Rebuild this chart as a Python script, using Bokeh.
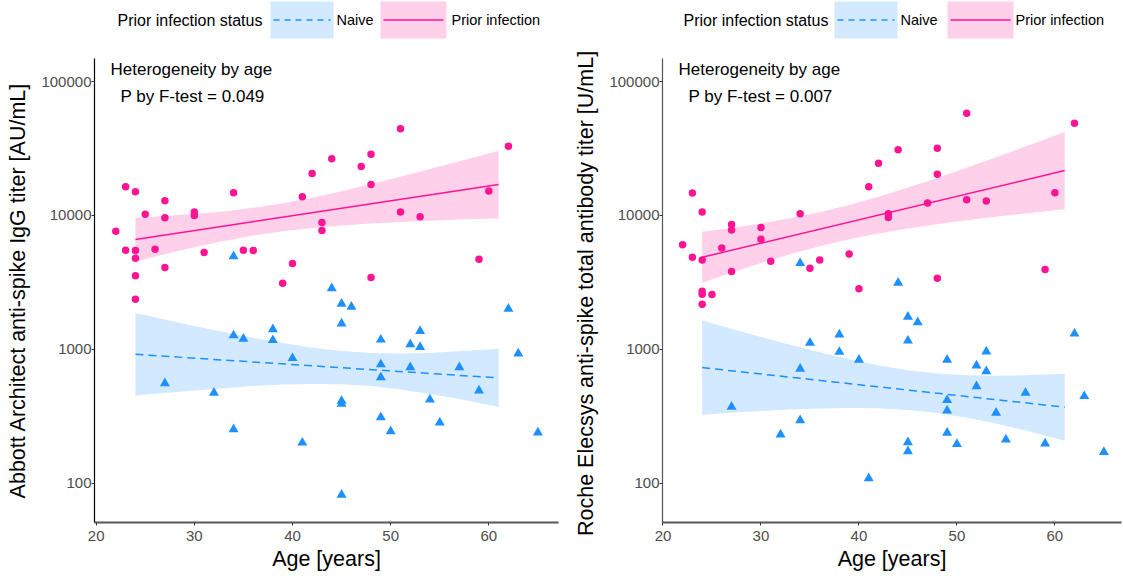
from bokeh.plotting import figure
from bokeh.models import Range1d, FixedTicker, NumeralTickFormatter, Label
from bokeh.layouts import row, column
from bokeh.core.properties import value
from bokeh.embed import file_html
from bokeh.resources import INLINE

FONT = "Liberation Sans"
PINK = "#FF1493"
BLUE = "#1E90FF"
PINK_BAND = "#FFD0E9"
BLUE_BAND = "#D2E9FF"

# ---------------- data ----------------
age_prior = [22, 23, 23, 24, 24, 24, 24, 24, 25, 26, 27, 27, 27, 30, 30, 31, 34, 35,
             36, 39, 40, 41, 42, 43, 43, 44, 47, 48, 48, 48, 51, 51, 53, 59, 60, 62]
abbott_prior = [7620, 16400, 5500, 15000, 5470, 4790, 3540, 2370, 10200, 5600, 12900, 9600,
                4080, 10600, 10000, 5290, 14800, 5500, 5470, 3120, 4370, 13800, 20600, 8850,
                7710, 26500, 23200, 28600, 17000, 3440, 44400, 10600, 9770, 4710, 15200, 32900]
roche_prior = [6030, 14700, 4870, 10600, 4650, 2710, 2580, 2170, 2570, 5720, 8550, 7800,
               3810, 8130, 6640, 4550, 10300, 4030, 4650, 5160, 2830, 16400, 24500, 10300,
               9650, 30900, 12400, 31800, 20300, 3400, 57900, 13100, 12800, 3950, 14800, 48900]

age_naive_abbott = [34, 44, 45, 46, 45, 62, 34, 35, 38, 38, 40, 49, 52, 53, 53, 49, 52, 49,
                    57, 63, 59, 27, 32, 45, 45, 54, 49, 55, 50, 34, 41, 65, 45]
abbott_naive = [4950, 2860, 2190, 2080, 1560, 2010, 1270, 1200, 1410, 1170, 859, 1180, 1090,
                1370, 1040, 771, 735, 619, 735, 931, 492, 558, 473, 412, 391, 422, 311, 284,
                244, 253, 201, 239, 82]
age_naive_roche = [34, 44, 45, 46, 45, 62, 35, 38, 38, 40, 34, 49, 52, 53, 53, 49, 52, 49,
                   57, 63, 59, 27, 32, 45, 45, 54, 49, 55, 50, 34, 41, 65]
roche_naive = [4400, 3140, 1750, 1590, 1160, 1310, 1120, 1290, 957, 835, 715, 835, 757, 963,
               686, 417, 530, 349, 473, 447, 198, 372, 231, 202, 173, 336, 238, 212, 196, 295,
               109, 171]

fit_age = [24, 61]
abbott_fit_prior = [6607, 17022]
abbott_fit_naive = [918, 612]
roche_fit_prior = [4875, 21627]
roche_fit_naive = [731, 370]

band_age = [24, 27, 30, 33, 36, 39, 42, 45, 48, 51, 54, 57, 61]
abbott_prior_lo = [4539, 5140, 5794, 6457, 7079, 7621, 8072, 8414, 8710, 8933, 9120, 9311, 9506]
abbott_prior_hi = [9616, 9886, 10257, 10715, 11402, 12359, 13583, 15171, 17140, 19454, 22182, 25410, 30479]
abbott_naive_lo = [452, 473, 493, 513, 532, 546, 552, 548, 532, 502, 465, 425, 371]
abbott_naive_hi = [1866, 1671, 1496, 1348, 1219, 1114, 1028, 971, 938, 931, 940, 966, 1012]
roche_prior_lo = [3148, 3741, 4406, 5140, 5888, 6637, 7328, 7980, 8590, 9204, 9772, 10351, 11143]
roche_prior_hi = [7551, 8072, 8710, 9528, 10568, 11967, 13772, 16144, 19055, 22751, 27164, 32734, 41976]
roche_naive_lo = [325, 336, 346, 355, 361, 365, 363, 353, 335, 309, 279, 248, 208]
roche_naive_hi = [1644, 1426, 1239, 1081, 951, 843, 759, 698, 659, 640, 635, 640, 656]

x_ticks = [20, 30, 40, 50, 60]
y_ticks = [100, 1000, 10000, 100000]

legend_title = "Prior infection status"
legend_labels = ["Naive", "Prior infection"]

LEG_H = 42


def make_legend(width, frame_px, x_title, blue_box, naive_x, pink_box, prior_x):
    # the legend strip's frame is aligned with the panel frame below it,
    # so its x range is expressed in page pixels of that frame
    lg = figure(width=width, height=LEG_H, x_range=Range1d(*frame_px),
                y_range=Range1d(LEG_H, 0), output_backend="svg", toolbar_location=None,
                x_axis_location=None, y_axis_location=None,
                min_border=0, min_border_top=0, min_border_bottom=0)
    lg.outline_line_color = None
    lg.xgrid.visible = False
    lg.ygrid.visible = False
    cy = 19.5
    lg.quad(left=[blue_box[0]], right=[blue_box[1]], top=[1], bottom=[38],
            fill_color=BLUE_BAND, line_color=None)
    lg.line([blue_box[0] + 3, blue_box[1] - 3], [cy, cy], line_color=BLUE, line_width=1.5,
            line_dash="6 5")
    lg.quad(left=[pink_box[0]], right=[pink_box[1]], top=[1], bottom=[38],
            fill_color=PINK_BAND, line_color=None)
    lg.line([pink_box[0] + 3, pink_box[1] - 3], [cy, cy], line_color=PINK, line_width=1.5)
    lg.text(x=[x_title], y=[cy], text=[legend_title], text_font=value(FONT),
            text_font_size=value("16px"), text_baseline="middle", text_align="left",
            text_color="black")
    lg.text(x=[naive_x, prior_x], y=[cy, cy], text=legend_labels, text_font=value(FONT),
            text_font_size=value("14.5px"), text_baseline="middle", text_align="left",
            text_color="black")
    return lg


def make_panel(width, ylabel, p_text, x_rng, border_l, border_r, yaxis_color,
               age_p, val_p, age_n, val_n, fit_p, fit_n, p_lo, p_hi, n_lo, n_hi):
    p = figure(width=width, height=534,
               x_range=Range1d(*x_rng), y_range=Range1d(10 ** 1.707, 10 ** 5.172),
               y_axis_type="log", output_backend="svg", toolbar_location=None,
               min_border_left=border_l, min_border_right=border_r,
               min_border_top=16, min_border_bottom=54)
    p.background_fill_color = "white"
    p.border_fill_color = "white"
    p.outline_line_color = None
    p.xgrid.visible = False
    p.ygrid.visible = False

    # confidence bands
    p.varea(x=band_age, y1=n_lo, y2=n_hi, fill_color=BLUE_BAND)
    p.varea(x=band_age, y1=p_lo, y2=p_hi, fill_color=PINK_BAND)
    # fitted lines
    p.line(fit_age, fit_n, line_color=BLUE, line_width=1.5, line_dash="8 5")
    p.line(fit_age, fit_p, line_color=PINK, line_width=1.5)
    # points
    p.scatter(age_n, val_n, marker="triangle", size=10, fill_color=BLUE, line_color=None)
    p.scatter(age_p, val_p, marker="circle", size=7.5, fill_color=PINK, line_color=None)

    # axes
    p.xaxis.ticker = FixedTicker(ticks=x_ticks)
    p.yaxis.ticker = FixedTicker(ticks=y_ticks)
    p.yaxis.formatter = NumeralTickFormatter(format="0")
    for ax in (p.xaxis[0], p.yaxis[0]):
        ax.major_tick_in = 0
        ax.major_tick_out = 3
        ax.minor_tick_line_color = None
        ax.major_tick_line_color = "#333333"
        ax.major_label_text_font = FONT
        ax.major_label_text_font_size = "15px"
        ax.major_label_text_color = "#4D4D4D"
        ax.axis_label_text_font = FONT
        ax.axis_label_text_font_size = "21.5px"
        ax.axis_label_text_font_style = "normal"
        ax.axis_label_text_color = "black"
    p.xaxis.axis_line_color = "#595959"
    p.xaxis.axis_line_width = 2
    p.xaxis.major_label_standoff = 5
    p.xaxis.axis_label_standoff = 3
    p.xaxis.axis_label = "Age [years]"
    p.yaxis.axis_line_color = yaxis_color
    p.yaxis.axis_line_width = 1.2
    p.yaxis.major_label_standoff = 0
    p.yaxis.axis_label_standoff = 8
    p.yaxis.axis_label = ylabel

    # in-panel annotation
    p.add_layout(Label(x=16, y=453, x_units="screen", y_units="screen",
                       text="Heterogeneity by age", text_font=FONT, text_font_size="17px",
                       text_baseline="middle", text_align="left", text_color="black"))
    p.add_layout(Label(x=26, y=426, x_units="screen", y_units="screen",
                       text=p_text, text_font=FONT, text_font_size="17px",
                       text_baseline="middle", text_align="left", text_color="black"))
    return p


W1, W2 = 571, 552

lg1 = make_legend(W1, (94, 558), 117, (270, 333), 336, (380, 446), 451)
lg2 = make_legend(W2, (662, 1121), 683, (834, 897), 900, (947, 1013), 1015)

p1 = make_panel(W1, "Abbott Architect anti-spike IgG titer [AU/mL]", "P by F-test = 0.049",
                (19.83, 67.1), 94, 13, "black",
                age_prior, abbott_prior, age_naive_abbott, abbott_naive,
                abbott_fit_prior, abbott_fit_naive,
                abbott_prior_lo, abbott_prior_hi, abbott_naive_lo, abbott_naive_hi)
p2 = make_panel(W2, "Roche Elecsys anti-spike total antibody titer  [U/mL]", "P by F-test = 0.007",
                (19.95, 66.8), 91, 2, "#555555",
                age_prior, roche_prior, age_naive_roche, roche_naive,
                roche_fit_prior, roche_fit_naive,
                roche_prior_lo, roche_prior_hi, roche_naive_lo, roche_naive_hi)

layout = row(column(lg1, p1), column(lg2, p2))
open("out.html", "w").write(file_html(layout, INLINE))
